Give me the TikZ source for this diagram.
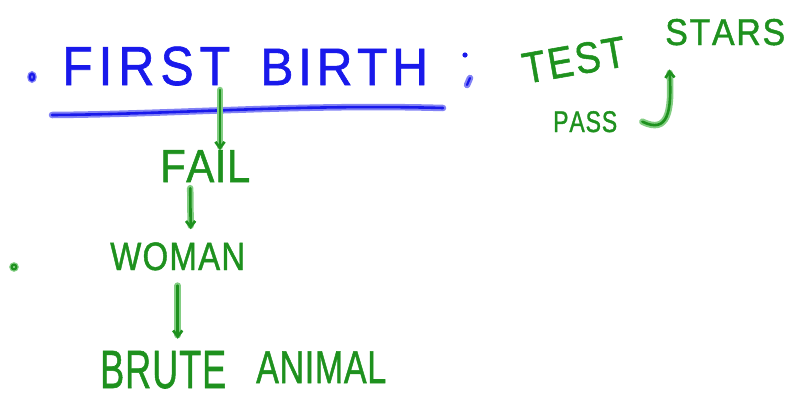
\documentclass[tikz,border=0pt]{standalone}
\usepackage{fontspec}
\newfontfamily\handfont[FakeBold=1.2]{Liberation Sans}
\usetikzlibrary{arrows.meta}
\definecolor{hblue}{RGB}{25,25,235}
\definecolor{hblueglow}{RGB}{130,130,245}
\definecolor{hgreen}{RGB}{30,145,30}
\definecolor{hgreenglow}{RGB}{130,205,130}
\newcommand{\spreadword}[3]{\scalebox{1}[#2]{\makebox[#1pt][s]{#3}}}
\newcommand{\handsize}[1]{\handfont\fontsize{#1}{#1}\selectfont}
\begin{document}
\begin{tikzpicture}[x=1pt,y=-1pt,
  word/.style={inner sep=0pt, anchor=base west},
  blueword/.style={word, text=hblue},
  greenword/.style={word, text=hgreen},
  blueline/.style={draw=hblue, line width=2.6pt, line cap=round, line join=round,
    preaction={draw=hblueglow, line width=6.5pt, line cap=round}},
  greenline/.style={draw=hgreen, line width=2.6pt, line cap=round, line join=round,
    preaction={draw=hgreenglow, line width=6.5pt, line cap=round}},
  garrow/.style={greenline, -{Straight Barb[length=6pt,width=9pt,line width=2.6pt]}}
]
\useasboundingbox (0,0) rectangle (791,394);
% title
\node[blueword, font=\handsize{50}] (first) at (62,85) {\spreadword{168}{1.1}{F\hfill I\hfill R\hfill S\hfill T}};
\node[blueword, font=\handsize{50}] (birth) at (260,85) {\spreadword{168}{1.05}{B\hfill I\hfill R\hfill T\hfill H}};
\draw[blueline] (52,115) .. controls (180,114) and (300,104) .. (443,108);
% bullets
\draw[hblue, line width=2.4pt, preaction={draw=hblueglow, line width=5pt}] (32,77) ellipse (2.2pt and 3.2pt);
\draw[hgreen, line width=2pt, preaction={draw=hgreenglow, line width=4.5pt}] (14,267) circle (2.4pt);
% semicolon
\fill[hblue] (465,55) circle (2.6pt);
\draw[blueline, line width=2.2pt] (470,78) -- (467,85);
% right side
\node[greenword, font=\handsize{38}, anchor=center, rotate=10] (test) at (574,60) {\spreadword{104}{1.15}{T\hfill E\hfill S\hfill T}};
\node[greenword, font=\handsize{34}] (stars) at (665,45) {\spreadword{120}{1.1}{S\hfill T\hfill A\hfill R\hfill S}};
\node[greenword, font=\handsize{23}] (pass) at (553,132) {\spreadword{64}{1.3}{P\hfill A\hfill S\hfill S}};
\draw[garrow, shorten >=24pt] ([xshift=25pt]pass.east) .. controls (668,134) and (672,112) .. (stars.south -| 668,0);
% tree
\node[greenword, font=\handsize{42}] (fail) at (160,182) {\spreadword{90}{1.1}{F\hfill A\hfill I\hfill L}};
\node[greenword, font=\handsize{33}] (woman) at (110,270) {\spreadword{135}{1.2}{W\hfill O\hfill M\hfill A\hfill N}};
\node[greenword, font=\handsize{36}] (brute) at (100,388) {\spreadword{126}{1.5}{B\hfill R\hfill U\hfill T\hfill E}};
\node[greenword, font=\handsize{34}] (animal) at (256,383) {\spreadword{130}{1.35}{A\hfill N\hfill I\hfill M\hfill A\hfill L}};
\coordinate (u) at (220,90);
\draw[garrow] (u) -- (u |- fail.north);
\draw[garrow] ([xshift=-15pt,yshift=-6pt]fail.south) -- ([xshift=13pt,yshift=13pt]woman.north);
\draw[garrow] ([yshift=-15pt]woman.south) -- ([yshift=12pt]woman.south |- brute.north);
\end{tikzpicture}
\end{document}
